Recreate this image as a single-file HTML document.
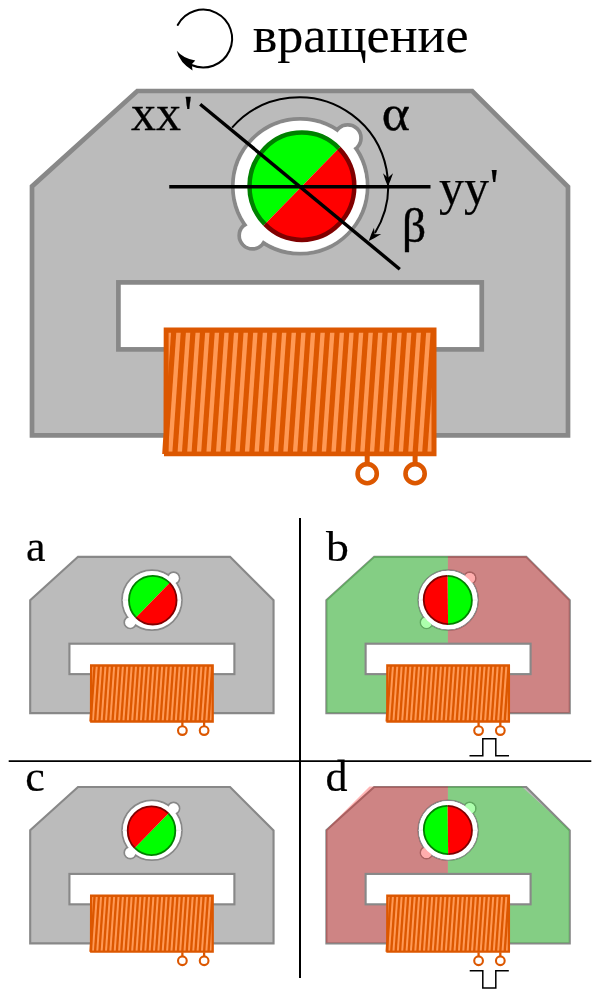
<!DOCTYPE html>
<html><head><meta charset="utf-8"><style>
html,body{margin:0;padding:0;background:#fff;width:600px;height:995px;overflow:hidden;font-family:"Liberation Serif",serif;}
svg{display:block}
text{filter:grayscale(1)}
</style></head><body>
<svg width="600" height="995" viewBox="0 0 600 995">
<defs>
<g id="coilg"><clipPath id="coilclip"><rect x="168.6" y="332.5" width="262.9" height="119.2"/></clipPath>
<path d="M163.7,327.5 L436.5,327.5 L436.5,456.3 L164,456.3 L164,454 L162.2,454 L163.5,433 Z" fill="#dc5700"/>
<g clip-path="url(#coilclip)"><path d="M157.08,332.5 L161.48,332.5 L153.18,451.7 L148.78,451.7 Z" fill="#ff9955"/><path d="M166.69,332.5 L171.09,332.5 L162.79,451.7 L158.39,451.7 Z" fill="#ff9955"/><path d="M176.3,332.5 L180.7,332.5 L172.4,451.7 L168,451.7 Z" fill="#ff9955"/><path d="M185.91,332.5 L190.31,332.5 L182.01,451.7 L177.61,451.7 Z" fill="#ff9955"/><path d="M195.52,332.5 L199.92,332.5 L191.62,451.7 L187.22,451.7 Z" fill="#ff9955"/><path d="M205.13,332.5 L209.53,332.5 L201.23,451.7 L196.83,451.7 Z" fill="#ff9955"/><path d="M214.74,332.5 L219.14,332.5 L210.84,451.7 L206.44,451.7 Z" fill="#ff9955"/><path d="M224.35,332.5 L228.75,332.5 L220.45,451.7 L216.05,451.7 Z" fill="#ff9955"/><path d="M233.96,332.5 L238.36,332.5 L230.06,451.7 L225.66,451.7 Z" fill="#ff9955"/><path d="M243.57,332.5 L247.97,332.5 L239.67,451.7 L235.27,451.7 Z" fill="#ff9955"/><path d="M253.18,332.5 L257.58,332.5 L249.28,451.7 L244.88,451.7 Z" fill="#ff9955"/><path d="M262.79,332.5 L267.19,332.5 L258.89,451.7 L254.49,451.7 Z" fill="#ff9955"/><path d="M272.4,332.5 L276.8,332.5 L268.5,451.7 L264.1,451.7 Z" fill="#ff9955"/><path d="M282.01,332.5 L286.41,332.5 L278.11,451.7 L273.71,451.7 Z" fill="#ff9955"/><path d="M291.62,332.5 L296.02,332.5 L287.72,451.7 L283.32,451.7 Z" fill="#ff9955"/><path d="M301.23,332.5 L305.63,332.5 L297.33,451.7 L292.93,451.7 Z" fill="#ff9955"/><path d="M310.84,332.5 L315.24,332.5 L306.94,451.7 L302.54,451.7 Z" fill="#ff9955"/><path d="M320.45,332.5 L324.85,332.5 L316.55,451.7 L312.15,451.7 Z" fill="#ff9955"/><path d="M330.06,332.5 L334.46,332.5 L326.16,451.7 L321.76,451.7 Z" fill="#ff9955"/><path d="M339.67,332.5 L344.07,332.5 L335.77,451.7 L331.37,451.7 Z" fill="#ff9955"/><path d="M349.28,332.5 L353.68,332.5 L345.38,451.7 L340.98,451.7 Z" fill="#ff9955"/><path d="M358.89,332.5 L363.29,332.5 L354.99,451.7 L350.59,451.7 Z" fill="#ff9955"/><path d="M368.5,332.5 L372.9,332.5 L364.6,451.7 L360.2,451.7 Z" fill="#ff9955"/><path d="M378.11,332.5 L382.51,332.5 L374.21,451.7 L369.81,451.7 Z" fill="#ff9955"/><path d="M387.72,332.5 L392.12,332.5 L383.82,451.7 L379.42,451.7 Z" fill="#ff9955"/><path d="M397.33,332.5 L401.73,332.5 L393.43,451.7 L389.03,451.7 Z" fill="#ff9955"/><path d="M406.94,332.5 L411.34,332.5 L403.04,451.7 L398.64,451.7 Z" fill="#ff9955"/><path d="M416.55,332.5 L420.95,332.5 L412.65,451.7 L408.25,451.7 Z" fill="#ff9955"/><path d="M426.16,332.5 L430.56,332.5 L422.26,451.7 L417.86,451.7 Z" fill="#ff9955"/><path d="M435.77,332.5 L440.17,332.5 L431.87,451.7 L427.47,451.7 Z" fill="#ff9955"/></g>
<rect x="364.7" y="455" width="5" height="10" fill="#dc5700"/>
<circle cx="367.2" cy="473.7" r="9.6" fill="#fff" stroke="#dc5700" stroke-width="4.6"/>
<rect x="412.6" y="455" width="5" height="10" fill="#dc5700"/>
<circle cx="415.1" cy="473.7" r="9.6" fill="#fff" stroke="#dc5700" stroke-width="4.6"/></g>
<clipPath id="ovL"><rect x="0" y="0" width="299.6" height="600"/></clipPath><clipPath id="ovR"><rect x="299.6" y="0" width="400" height="600"/></clipPath>
</defs>
<path d="M137.3,91 L472.2,91 L568,186.8 L568,435.4 L32,435.4 L32,186.4 Z" fill="#bbbbbb" stroke="#888888" stroke-width="4.7" stroke-linejoin="miter"/>
<rect x="118.4" y="282.4" width="363.35" height="67" fill="#fff" stroke="#888888" stroke-width="4.7"/>
<circle cx="300.2" cy="186.3" r="67.4" fill="none" stroke="#888888" stroke-width="3.75"/>
<circle cx="347.7" cy="138.1" r="13.3" fill="none" stroke="#888888" stroke-width="3.75"/>
<circle cx="252.5" cy="235.6" r="13.3" fill="none" stroke="#888888" stroke-width="3.75"/>
<circle cx="347.7" cy="138.1" r="11.43" fill="#fff"/>
<circle cx="252.5" cy="235.6" r="11.43" fill="#fff"/>
<circle cx="300.2" cy="186.3" r="65.53" fill="#fff"/>
<g transform="rotate(0 301.9 186.25)"><path d="M338.95,148.31 A52.4,53.65 0 0 0 264.85,224.19 Z" fill="#00ff00"/><path d="M264.85,224.19 A52.4,53.65 0 0 0 338.95,148.31 Z" fill="#ff0000"/><path d="M338.95,148.31 A52.4,53.65 0 0 0 264.85,224.19" fill="none" stroke="#008000" stroke-width="4.5"/><path d="M264.85,224.19 A52.4,53.65 0 0 0 338.95,148.31" fill="none" stroke="#800000" stroke-width="4.5"/></g>
<use href="#coilg"/>
<line x1="169.25" y1="186.7" x2="430.5" y2="186.7" stroke="#000" stroke-width="3.5"/>
<line x1="200.2" y1="104.2" x2="399.8" y2="269.2" stroke="#000" stroke-width="3.4"/>
<path d="M232.06,127.59 A89.1,89.1 0 0 1 374.97,232.95" fill="none" stroke="#000" stroke-width="2"/>
<path d="M0,0 Q-6.6,-3 -13.2,-5 Q-9.8,-1.25 -8.6,0 Q-9.8,1.25 -13.2,5 Q-6.6,3 0,0 Z" fill="#000" transform="translate(387.9 186.5) rotate(90.5)"/>
<path d="M0,0 Q-6.75,-2.9 -13.5,-4.8 Q-10.2,-1.2 -9,0 Q-10.2,1.2 -13.5,4.8 Q-6.75,2.9 0,0 Z" fill="#000" transform="translate(368.75 241) rotate(131)"/>
<path d="M177.71,24.99 A28.9,28.9 0 1 1 191.45,65" fill="none" stroke="#000" stroke-width="2" stroke-linecap="round"/><path d="M176.75,50.75 Q183,58.4 195.25,60.5 L191.75,64.25 L192.5,70.5 Q179.4,62.4 176.75,50.75 Z" fill="#000"/>
<text x="252" y="52" font-family="Liberation Serif, serif" stroke="#000" stroke-width="0.1" font-size="50" transform="translate(253.7 0) scale(1.042 1) translate(-253 0)">вращение</text>
<text x="131" y="130.3" font-family="Liberation Serif, serif" stroke="#000" stroke-width="0.3" font-size="50">xx<tspan dx="2.7">'</tspan></text>
<text x="382" y="130.5" font-family="Liberation Serif, serif" stroke="#000" stroke-width="0.4" font-size="50" font-style="italic" transform="translate(384 130.5) skewX(10) scale(1.06 1) translate(-382 -130.5)">α</text>
<text x="439" y="204" font-family="Liberation Serif, serif" stroke="#000" stroke-width="0.2" font-size="50">yy<tspan dx="0.8" dy="-1">'</tspan></text>
<text x="402" y="242.5" font-family="Liberation Serif, serif" stroke="#000" stroke-width="0.4" font-size="48" transform="translate(402 242.5) scale(0.99) translate(-402 -242.5)">β</text>
<text x="26" y="560.5" font-family="Liberation Serif, serif" stroke="#000" stroke-width="0.2" font-size="44">a</text>
<text x="326" y="560.8" font-family="Liberation Serif, serif" stroke="#000" stroke-width="0.2" font-size="44" transform="translate(326 560.8) scale(1.04 0.97) translate(-326 -560.8)">b</text>
<text x="25.2" y="791" font-family="Liberation Serif, serif" stroke="#000" stroke-width="0.2" font-size="44">c</text>
<text x="325.5" y="790.5" font-family="Liberation Serif, serif" stroke="#000" stroke-width="0.2" font-size="44">d</text>
<g transform="translate(15.67 515.5) scale(0.454)">
<path d="M137.3,91 L472.2,91 L568,186.8 L568,435.4 L32,435.4 L32,186.4 Z" fill="#bbbbbb" stroke="#888888" stroke-width="4.7" stroke-linejoin="miter"/>
<circle cx="300.2" cy="186.3" r="66.0" fill="none" stroke="#888888" stroke-width="3.85"/>
<circle cx="347.7" cy="138.1" r="13.3" fill="none" stroke="#888888" stroke-width="3.85"/>
<circle cx="252.5" cy="235.6" r="13.3" fill="none" stroke="#888888" stroke-width="3.85"/>
<circle cx="347.7" cy="138.1" r="11.38" fill="#fff"/>
<circle cx="252.5" cy="235.6" r="11.38" fill="#fff"/>
<circle cx="300.2" cy="186.3" r="64.08" fill="#fff"/>
<rect x="118.4" y="282.4" width="363.35" height="67" fill="#fff" stroke="#888888" stroke-width="4.7"/>
<line x1="234.2" y1="186.25" x2="366.2" y2="186.25" stroke="#ddd" stroke-width="1.2"/>
<g transform="translate(0.1 0.25)"><g transform="rotate(0 301.9 186.25)"><path d="M338.95,148.31 A52.4,53.65 0 0 0 264.85,224.19 Z" fill="#00ff00"/><path d="M264.85,224.19 A52.4,53.65 0 0 0 338.95,148.31 Z" fill="#ff0000"/><path d="M338.95,148.31 A52.4,53.65 0 0 0 264.85,224.19" fill="none" stroke="#008000" stroke-width="4.0"/><path d="M264.85,224.19 A52.4,53.65 0 0 0 338.95,148.31" fill="none" stroke="#800000" stroke-width="4.0"/></g></g>
<use href="#coilg"/>
</g>
<g transform="translate(311.87 515.5) scale(0.454)">
<path d="M137.3,91 L472.2,91 L568,186.8 L568,435.4 L32,435.4 L32,186.4 Z" fill="#bbbbbb" stroke="#888888" stroke-width="4.7" stroke-linejoin="miter"/>
<circle cx="300.2" cy="186.3" r="66.0" fill="none" stroke="#888888" stroke-width="3.85"/>
<circle cx="347.7" cy="138.1" r="13.3" fill="none" stroke="#888888" stroke-width="3.85"/>
<circle cx="252.5" cy="235.6" r="13.3" fill="none" stroke="#888888" stroke-width="3.85"/>
<circle cx="347.7" cy="138.1" r="11.38" fill="#fff"/>
<circle cx="252.5" cy="235.6" r="11.38" fill="#fff"/>
<circle cx="300.2" cy="186.3" r="64.08" fill="#fff"/>
<g transform="translate(0 -1.2)">
<path d="M137.3,91 L472.2,91 L568,186.8 L568,435.4 L32,435.4 L32,186.4 Z" fill="#00ff00" fill-opacity="0.29" clip-path="url(#ovL)"/>
<path d="M137.3,91 L472.2,91 L568,186.8 L568,435.4 L32,435.4 L32,186.4 Z" fill="#ff0000" fill-opacity="0.29" clip-path="url(#ovR)"/>
</g>
<rect x="118.4" y="282.4" width="363.35" height="67" fill="#fff" stroke="#888888" stroke-width="4.7"/>
<circle cx="300.2" cy="186.3" r="65.8" fill="#fff" stroke="#888888" stroke-width="2.6"/>
<circle cx="347.7" cy="138.1" r="11.65" fill="#ffadad"/>
<circle cx="252.5" cy="235.6" r="11.65" fill="#adffad"/>
<circle cx="300.2" cy="186.3" r="64.5" fill="#fff"/>
<line x1="234.2" y1="186.25" x2="366.2" y2="186.25" stroke="#ddd" stroke-width="1.2"/>
<g transform="translate(-2.5 -0.15)"><g transform="rotate(135 301.9 186.25)"><path d="M338.95,148.31 A52.4,53.65 0 0 0 264.85,224.19 Z" fill="#00ff00"/><path d="M264.85,224.19 A52.4,53.65 0 0 0 338.95,148.31 Z" fill="#ff0000"/><path d="M338.95,148.31 A52.4,53.65 0 0 0 264.85,224.19" fill="none" stroke="#008000" stroke-width="4.0"/><path d="M264.85,224.19 A52.4,53.65 0 0 0 338.95,148.31" fill="none" stroke="#800000" stroke-width="4.0"/></g></g>
<use href="#coilg"/>
</g>
<g transform="translate(15.67 745.7) scale(0.454)">
<path d="M137.3,91 L472.2,91 L568,186.8 L568,435.4 L32,435.4 L32,186.4 Z" fill="#bbbbbb" stroke="#888888" stroke-width="4.7" stroke-linejoin="miter"/>
<circle cx="300.2" cy="186.3" r="66.0" fill="none" stroke="#888888" stroke-width="3.85"/>
<circle cx="347.7" cy="138.1" r="13.3" fill="none" stroke="#888888" stroke-width="3.85"/>
<circle cx="252.5" cy="235.6" r="13.3" fill="none" stroke="#888888" stroke-width="3.85"/>
<circle cx="347.7" cy="138.1" r="11.38" fill="#fff"/>
<circle cx="252.5" cy="235.6" r="11.38" fill="#fff"/>
<circle cx="300.2" cy="186.3" r="64.08" fill="#fff"/>
<rect x="118.4" y="282.4" width="363.35" height="67" fill="#fff" stroke="#888888" stroke-width="4.7"/>
<line x1="234.2" y1="186.25" x2="366.2" y2="186.25" stroke="#ddd" stroke-width="1.2"/>
<g transform="translate(-2.7 0.95)"><g transform="rotate(180 301.9 186.25)"><path d="M338.95,148.31 A52.4,53.65 0 0 0 264.85,224.19 Z" fill="#00ff00"/><path d="M264.85,224.19 A52.4,53.65 0 0 0 338.95,148.31 Z" fill="#ff0000"/><path d="M338.95,148.31 A52.4,53.65 0 0 0 264.85,224.19" fill="none" stroke="#008000" stroke-width="4.0"/><path d="M264.85,224.19 A52.4,53.65 0 0 0 338.95,148.31" fill="none" stroke="#800000" stroke-width="4.0"/></g></g>
<use href="#coilg"/>
</g>
<g transform="translate(311.87 745.7) scale(0.454)">
<path d="M137.3,91 L472.2,91 L568,186.8 L568,435.4 L32,435.4 L32,186.4 Z" fill="#bbbbbb" stroke="#888888" stroke-width="4.7" stroke-linejoin="miter"/>
<circle cx="300.2" cy="186.3" r="66.0" fill="none" stroke="#888888" stroke-width="3.85"/>
<circle cx="347.7" cy="138.1" r="13.3" fill="none" stroke="#888888" stroke-width="3.85"/>
<circle cx="252.5" cy="235.6" r="13.3" fill="none" stroke="#888888" stroke-width="3.85"/>
<circle cx="347.7" cy="138.1" r="11.38" fill="#fff"/>
<circle cx="252.5" cy="235.6" r="11.38" fill="#fff"/>
<circle cx="300.2" cy="186.3" r="64.08" fill="#fff"/>
<g transform="translate(0 -1.2)">
<g transform="translate(599.2 0) scale(-1 1)">
<path d="M137.3,91 L472.2,91 L568,186.8 L568,435.4 L32,435.4 L32,186.4 Z" fill="#00ff00" fill-opacity="0.29" clip-path="url(#ovL)"/>
<path d="M137.3,91 L472.2,91 L568,186.8 L568,435.4 L32,435.4 L32,186.4 Z" fill="#ff0000" fill-opacity="0.29" clip-path="url(#ovR)"/>
</g>
</g>
<rect x="118.4" y="282.4" width="363.35" height="67" fill="#fff" stroke="#888888" stroke-width="4.7"/>
<circle cx="300.2" cy="186.3" r="65.8" fill="#fff" stroke="#888888" stroke-width="2.6"/>
<circle cx="347.7" cy="138.1" r="11.65" fill="#adffad"/>
<circle cx="252.5" cy="235.6" r="11.65" fill="#ffadad"/>
<circle cx="300.2" cy="186.3" r="64.5" fill="#fff"/>
<line x1="234.2" y1="186.25" x2="366.2" y2="186.25" stroke="#ddd" stroke-width="1.2"/>
<g transform="translate(-2.3 -0.55)"><g transform="rotate(-45 301.9 186.25)"><path d="M338.95,148.31 A52.4,53.65 0 0 0 264.85,224.19 Z" fill="#00ff00"/><path d="M264.85,224.19 A52.4,53.65 0 0 0 338.95,148.31 Z" fill="#ff0000"/><path d="M338.95,148.31 A52.4,53.65 0 0 0 264.85,224.19" fill="none" stroke="#008000" stroke-width="4.0"/><path d="M264.85,224.19 A52.4,53.65 0 0 0 338.95,148.31" fill="none" stroke="#800000" stroke-width="4.0"/></g></g>
<use href="#coilg"/>
</g>
<line x1="300" y1="518" x2="300" y2="978" stroke="#000" stroke-width="2"/>
<line x1="8.7" y1="761.1" x2="591.3" y2="761.1" stroke="#000" stroke-width="1.9"/>
<path d="M469.5,755.7 H482.8 V738.7 H495.8 V755.7 H509" fill="none" stroke="#000" stroke-width="1.5"/>
<path d="M469.7,970.8 H482.8 V988 H495.8 V970.8 H508.8" fill="none" stroke="#000" stroke-width="1.5"/>
</svg>
</body></html>
